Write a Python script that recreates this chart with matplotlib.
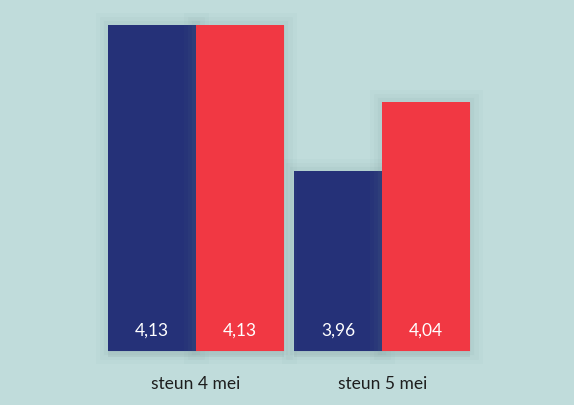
import matplotlib.pyplot as plt
import matplotlib.patheffects as pe

groups = ['steun 4 mei', 'steun 5 mei']
series_a = [4.13, 3.96]
series_b = [4.13, 4.04]
labels_a = ['4,13', '3,96']
labels_b = ['4,13', '4,04']

bg = '#c0dcdb'
navy = '#253178'
red = '#f13843'
base = 3.75

fig = plt.figure(figsize=(5.74, 4.05), dpi=100, facecolor=bg)
ax = fig.add_axes([107/574, 54/405, 364/574, 326/405])
ax.set_facecolor('none')

w = 0.472
x = [0, 1]
shadow = [pe.SimplePatchShadow(offset=(0, -4), shadow_rgbFace='#6f9190', alpha=0.12),
          pe.Stroke(linewidth=18, foreground='#6f9190', alpha=0.04),
          pe.Stroke(linewidth=12, foreground='#6f9190', alpha=0.05),
          pe.Stroke(linewidth=6, foreground='#6f9190', alpha=0.07),
          pe.Normal()]

bars_a = ax.bar([i - w/2 for i in x], [v - base for v in series_a], bottom=base,
                width=w, color=navy, linewidth=0)
bars_b = ax.bar([i + w/2 for i in x], [v - base for v in series_b], bottom=base,
                width=w, color=red, linewidth=0)
for b in list(bars_a) + list(bars_b):
    b.set_path_effects(shadow)
    b.set_clip_on(False)

ax.set_ylim(base, 4.13)
ax.set_xlim(-w - 0.005, 1 + w + 0.005)

for i in x:
    ax.annotate(labels_a[i], (i - w/2, base), xytext=(0, 15), textcoords='offset points',
                ha='center', va='center', color='white', fontsize=12.5, family='Lato')
    ax.annotate(labels_b[i], (i + w/2, base), xytext=(0, 15), textcoords='offset points',
                ha='center', va='center', color='white', fontsize=12.5, family='Lato')
    ax.annotate(groups[i], (i, base), xytext=(0, -24), textcoords='offset points',
                ha='center', va='center', color='#1e1e1e', fontsize=12.5, family='Lato',
                annotation_clip=False)

ax.axis('off')
fig.savefig('out.png', dpi=100, facecolor=bg)
